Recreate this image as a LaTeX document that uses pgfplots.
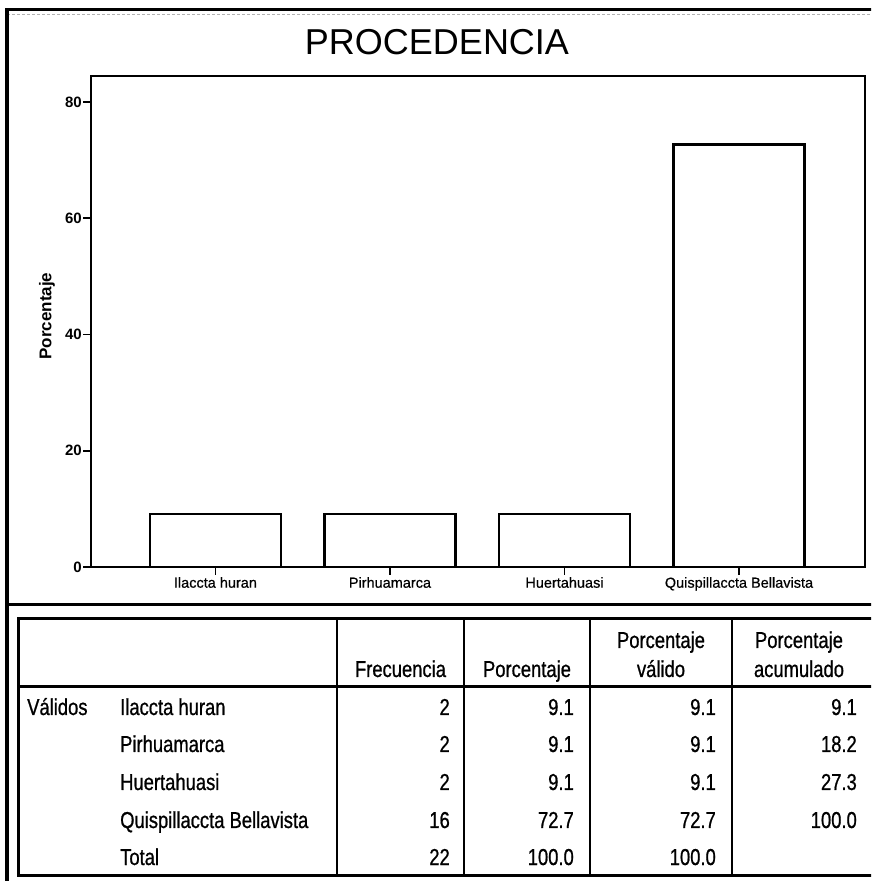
\documentclass[border=0pt]{standalone}
\usepackage{fontspec}
\setmainfont{Liberation Sans}
\newfontfamily\narrowfont[FakeStretch=0.8,FakeBold=0.8]{Liberation Sans}
\newfontfamily\tickfont[FakeBold=0.6]{Liberation Sans}
\usepackage{pgfplots}
\usepackage{pgfplotstable}
\pgfplotsset{compat=1.18}

\pgfplotstableread{
x y
0 9.1
1 9.1
2 9.1
3 72.7
}\bardata

\newcommand\tf{\narrowfont\fontsize{23}{25}\selectfont}

\begin{document}
\begin{tikzpicture}[x=1pt,y=1pt]
\path[use as bounding box] (0,0) rectangle (871,881);
\clip (0,0) rectangle (871,881);
\fill[white] (0,0) rectangle (871,881);
\begin{axis}[
  at={(91pt,314pt)}, anchor=south west,
  scale only axis, width=774pt, height=491pt,
  xmin=-0.713, xmax=3.722, ymin=0, ymax=84.47,
  axis line style={line width=1.6pt},
  ytick={0,20,40,60,80},
  xtick={0,1,2,3},
  xticklabels={Ilaccta huran, Pirhuamarca, Huertahuasi, Quispillaccta Bellavista},
  tick align=outside, tick pos=left,
  major tick length=8pt,
  every tick/.style={black, line width=1.6pt},
  /pgf/number format/assume math mode=true,
  yticklabel style={font=\bfseries\fontsize{15}{17}\selectfont, inner sep=1pt},
  xticklabel style={font=\tickfont\fontsize{14.5}{16}\selectfont, inner sep=2pt},
  ylabel={Porcentaje},
  ylabel style={font=\bfseries\fontsize{17}{19}\selectfont, at={(axis description cs:-0.0568,0.511)}, anchor=center},
]
\addplot[ybar, bar width=131pt, fill=white, draw=black, line width=2.2pt] table[x=x,y=y]{\bardata};
\end{axis}
\begin{scope}[x=1pt,y=-1pt,shift={(0pt,881pt)}]
  % title
  \node[font=\fontsize{36}{40}\selectfont, anchor=base] at (437,55) {PROCEDENCIA};
  % outer frame
  \draw[line width=3pt] (7,10) -- (890,10);
  \draw[gray!60, line width=0.8pt, dash pattern=on 3pt off 2pt] (7,14) -- (890,14);
  \draw[line width=4pt] (7,8.5) -- (7,890);
  \draw[line width=3pt] (7,605) -- (890,605);
  % table frame
  \draw[line width=3pt] (890,619) -- (18,619) -- (18,876) -- (890,876);
  \draw[line width=3pt] (18,687) -- (890,687);
  \foreach \xx in {337,464,590,732} {\draw[line width=1.8pt] (\xx,619) -- (\xx,876);}
  % header
  \node[font=\tf, anchor=base] at (400.5,677) {Frecuencia};
  \node[font=\tf, anchor=base] at (527,677) {Porcentaje};
  \node[font=\tf, anchor=base] at (661,648) {Porcentaje};
  \node[font=\tf, anchor=base] at (661,677) {válido};
  \node[font=\tf, anchor=base] at (799,648) {Porcentaje};
  \node[font=\tf, anchor=base] at (799,677) {acumulado};
  % row labels
  \node[font=\tf, anchor=base west, inner sep=0pt] at (27,715) {Válidos};
  \node[font=\tf, anchor=base west, inner sep=0pt] at (120,715) {Ilaccta huran};
  \node[font=\tf, anchor=base west, inner sep=0pt] at (120,752) {Pirhuamarca};
  \node[font=\tf, anchor=base west, inner sep=0pt] at (120,790) {Huertahuasi};
  \node[font=\tf, anchor=base west, inner sep=0pt] at (120,828) {Quispillaccta Bellavista};
  \node[font=\tf, anchor=base west, inner sep=0pt] at (120,865) {Total};
  % values
  \foreach \yy/\a/\b/\c/\d in {715/2/9.1/9.1/9.1, 752/2/9.1/9.1/18.2, 790/2/9.1/9.1/27.3, 828/16/72.7/72.7/100.0, 865/22/100.0/100.0/{}} {
    \node[font=\tf, anchor=base east, inner sep=0pt] at (450,\yy) {\a};
    \node[font=\tf, anchor=base east, inner sep=0pt] at (574,\yy) {\b};
    \node[font=\tf, anchor=base east, inner sep=0pt] at (716,\yy) {\c};
    \node[font=\tf, anchor=base east, inner sep=0pt] at (857,\yy) {\d};
  }
\end{scope}
\end{tikzpicture}
\end{document}
